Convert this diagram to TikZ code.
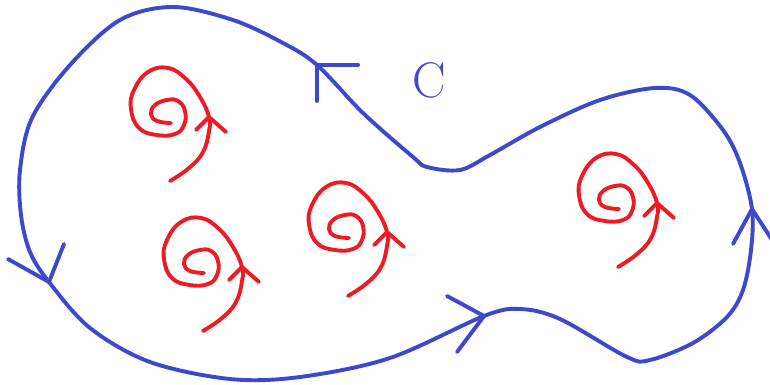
\documentclass[tikz,border=0pt]{standalone}
\usetikzlibrary{calc}
\definecolor{penblue}{RGB}{63,72,204}
\definecolor{penred}{RGB}{237,28,36}
\tikzset{
  stroke/.style={line width=3.9pt, line cap=round, line join=round},
  bluestroke/.style={stroke, draw=penblue},
  redstroke/.style={stroke, draw=penred},
  curl/.pic={
    % tail, up through the tip, outer loop, inner loop
    \draw[redstroke] plot[smooth, tension=0.75] coordinates {
      (-39,64) (-20,51) (-6,35) (0,14) (0,0) (-9,-20) (-23,-38) (-41,-49)
      (-61,-45) (-75,-27) (-78,-8) (-70,11) (-52,18) (-34,17) (-25,8)
      (-24,-6) (-31,-16) (-42,-17) (-54,-12) (-58,-3) (-52,4) (-38,6)};
    % arrow barbs
    \draw[redstroke] (-13,13) -- (0,0) -- (17,15);
  }
}
\begin{document}
\begin{tikzpicture}[x=1pt, y=-1pt]
  \useasboundingbox (0,0) rectangle (770,385);
  \clip (0,0) rectangle (770,385);
  \fill[white] (0,0) rectangle (770,385);

  % the big closed loop
  \draw[bluestroke] plot[smooth cycle, tension=0.55] coordinates {
    (317,65) (283,43) (233,20) (173,7) (120,20) (70,65) (32,118) (20,170)
    (21,215) (30,252) (49,282) (90,328) (150,362) (230,379) (300,377)
    (390,358) (484,316) (520,309) (560,319) (627,357) (650,360) (693,343)
    (727,317) (743,290) (751,250) (752,209) (740,163) (723,130) (690,95)
    (655,88) (600,100) (540,127) (490,155) (460,170) (427,167) (413,157)
    (363,113)};

  % arrowheads along the loop
  \coordinate (tipL) at (49,282);
  \coordinate (tipT) at (317,65);
  \coordinate (tipB) at (484,316);
  \coordinate (tipR) at (752,209);
  \draw[bluestroke] (8,259) -- (tipL) -- (64,244);
  \draw[bluestroke] (358,65) -- (tipT) -- (317,101);
  \draw[bluestroke] (447,296) -- (tipB) -- (457,352);
  \draw[bluestroke] (733,244) -- (tipR) -- (776,246);

  % label
  \node[text=penblue, font=\fontsize{50}{50}\selectfont, inner sep=0pt] (lblC) at (429,80) {C};

  % curly arrows
  \pic at (209,117) {curl};
  \pic at (242,267) {curl};
  \pic at (387,232) {curl};
  \pic at (657,203) {curl};
\end{tikzpicture}
\end{document}
